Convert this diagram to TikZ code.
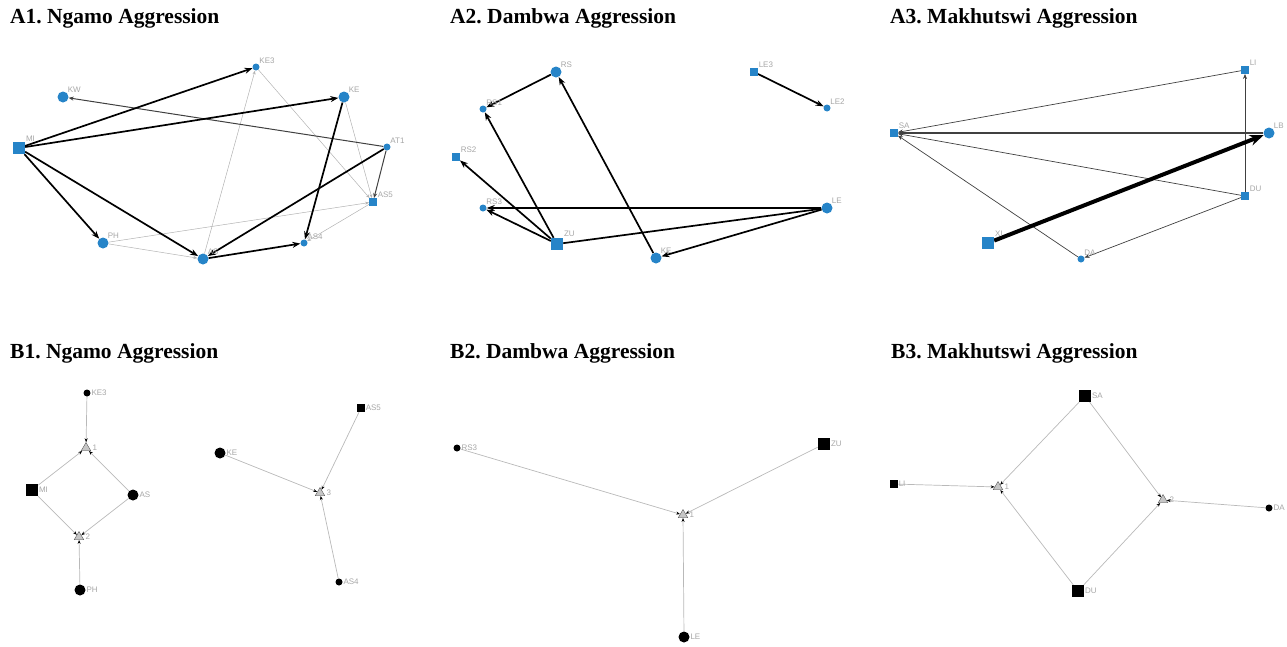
\documentclass[tikz,border=0pt]{standalone}
\usepackage{fontspec}
\setmainfont{Liberation Serif}
\newfontfamily\lblfont{Liberation Sans}
\usetikzlibrary{arrows.meta,shapes.geometric,backgrounds}
\definecolor{netblue}{RGB}{38,132,200}
\frenchspacing

\begin{document}
\begin{tikzpicture}[x=1pt,y=-1pt,
    title/.style={anchor=base west,inner sep=0pt,font=\fontsize{21.5}{23}\selectfont\bfseries},
    lbl/.style={font=\lblfont\fontsize{8}{9}\selectfont,text=gray!70,inner sep=0.6pt},
    alab/.style={label={[lbl,anchor=south west]north east:#1}},
    blab/.style={label={[lbl,anchor=west]east:#1}},
    tlab/.style={label={[lbl,anchor=west,xshift=2.5pt]east:#1}},
    bigdot/.style={circle,fill=#1,inner sep=0pt,minimum size=11pt},
    smalldot/.style={circle,fill=#1,inner sep=0pt,minimum size=7pt},
    bigbox/.style={rectangle,fill=#1,inner sep=0pt,minimum size=12pt},
    smallbox/.style={rectangle,fill=#1,inner sep=0pt,minimum size=7.5pt},
    tri/.style={regular polygon,regular polygon sides=3,draw=gray!70!black,fill=gray!45,
        inner sep=0pt,minimum size=11pt,line width=0.4pt},
    heavy/.style={line width=1.7pt,-{Stealth[length=8pt,width=6pt]}},
    mid/.style={line width=1pt,black!75,-{Stealth[length=5pt,width=4pt]}},
    faint/.style={line width=0.5pt,gray!60,-{Stealth[length=4pt,width=3pt]}},
    hub/.style={line width=0.7pt,gray!55,-{Stealth[length=4pt,width=3pt,color=black]}}]

    \useasboundingbox (0,0) rectangle (1287,646);

    % Titles
    \node[title] (tA1) at (10,23) {A1. Ngamo Aggression};
    \node[title] (tA2) at (450,23) {A2. Dambwa Aggression};
    \node[title] (tA3) at (890,23) {A3. Makhutswi Aggression};
    \node[title] (tB1) at (10,358) {B1. Ngamo Aggression};
    \node[title] (tB2) at (450,358) {B2. Dambwa Aggression};
    \node[title] (tB3) at (891,358) {B3. Makhutswi Aggression};

    % A1 Ngamo
    \begin{scope}
        \node[smalldot=netblue,alab=KE3] (KE3) at (256,67) {};
        \node[bigdot=netblue,alab=KW] (KW) at (63,97) {};
        \node[bigdot=netblue,alab=KE] (KE) at (344,97) {};
        \node[bigbox=netblue,alab=MI] (MI) at (19,148) {};
        \node[smalldot=netblue,alab=AT1] (AT1) at (387,147) {};
        \node[smallbox=netblue,alab=AS5] (AS5) at (373,202) {};
        \node[bigdot=netblue,alab=PH] (PH) at (103,243) {};
        \node[bigdot=netblue,alab=AS] (AS) at (203,259) {};
        \node[smalldot=netblue,alab=AS4] (AS4) at (304,243) {};

        % thin ties first, heavy ones on top
        \begin{pgfonlayer}{background}
        \foreach \s/\t in {KE/AS5,KE3/AS5,AS/KE3,PH/AS5,PH/AS,AS5/AS4}
            \draw[faint] (\s) -- (\t);
        \draw[mid] (AT1) -- (KW);
        \draw[mid] (AT1) -- (AS5);
        \foreach \s/\t in {MI/KE3,MI/KE,MI/PH,MI/AS,AT1/AS,KE/AS4,AS/AS4}
            \draw[heavy] (\s) -- (\t);
        \end{pgfonlayer}
    \end{scope}

    % A2 Dambwa
    \begin{scope}
        \node[bigdot=netblue,alab=RS] (RS) at (556,72) {};
        \node[smallbox=netblue,alab=LE3] (LE3) at (754,72) {};
        \node[smalldot=netblue,alab=LE2] (LE2) at (827,108) {};
        \node[smalldot=netblue,alab=RS1] (RS1) at (483,109) {};
        \node[smallbox=netblue,alab=RS2] (RS2) at (456,157) {};
        \node[smalldot=netblue,alab=RS3] (RS3) at (483,208) {};
        \node[bigdot=netblue,alab=LE] (LE) at (827,208) {};
        \node[bigbox=netblue,alab=ZU] (ZU) at (557,244) {};
        \node[bigdot=netblue,alab=KE] (KE) at (656,258) {};

        \begin{pgfonlayer}{background}
        \foreach \s/\t in {RS/RS1,ZU/RS1,ZU/RS2,ZU/RS3,LE/RS3,LE/KE,KE/RS,LE3/LE2}
            \draw[heavy] (\s) -- (\t);
        \draw[heavy,-] (LE) -- (ZU);
        \end{pgfonlayer}
    \end{scope}

    % A3 Makhutswi
    \begin{scope}
        \node[smallbox=netblue,alab=LI] (LI) at (1245,70) {};
        \node[smallbox=netblue,alab=SA] (SA) at (894,133) {};
        \node[bigdot=netblue,alab=LB] (LB) at (1269,133) {};
        \node[smallbox=netblue,alab=DU] (DU) at (1245,196) {};
        \node[bigbox=netblue,alab=XI] (XI) at (988,243) {};
        \node[smalldot=netblue,alab=DA] (DA) at (1081,259) {};

        \begin{pgfonlayer}{background}
        \foreach \s/\t in {LI/SA,DU/SA,DA/SA,DU/LI,DU/DA}
            \draw[mid,line width=0.7pt] (\s) -- (\t);
        \draw[mid,line width=1.3pt] (LB) -- (SA);
        \draw[line width=4pt,-{Stealth[length=14pt,width=11pt]}] (XI) -- (LB);
        \end{pgfonlayer}
    \end{scope}

    % B1 Ngamo
    \begin{scope}
        \node[smalldot=black,blab=KE3] (KE3) at (87,393) {};
        \node[tri,tlab=1] (g1) at (86,448) {};
        \node[bigbox=black,blab=MI] (MI) at (32,490) {};
        \node[bigdot=black,blab=AS] (AS) at (133,495) {};
        \node[tri,tlab=2] (g2) at (79,537) {};
        \node[bigdot=black,blab=PH] (PH) at (80,590) {};
        \node[bigdot=black,blab=KE] (KE) at (220,453) {};
        \node[smallbox=black,blab=AS5] (AS5) at (361,408) {};
        \node[tri,tlab=3] (g3) at (320,493) {};
        \node[smalldot=black,blab=AS4] (AS4) at (339,582) {};

        \begin{pgfonlayer}{background}
        \foreach \s/\t in {KE3/g1,MI/g1,AS/g1,MI/g2,AS/g2,PH/g2,KE/g3,AS5/g3,AS4/g3}
            \draw[hub] (\s) -- (\t);
        \end{pgfonlayer}
    \end{scope}

    % B2 Dambwa
    \begin{scope}
        \node[smalldot=black,blab=RS3] (RS3) at (457,448) {};
        \node[bigbox=black,blab=ZU] (ZU) at (824,444) {};
        \node[tri,tlab=1] (g1) at (683,515) {};
        \node[bigdot=black,blab=LE] (LE) at (684,637) {};

        \begin{pgfonlayer}{background}
        \foreach \s in {RS3,ZU,LE}
            \draw[hub] (\s) -- (g1);
        \end{pgfonlayer}
    \end{scope}

    % B3 Makhutswi
    \begin{scope}
        \node[bigbox=black,blab=SA] (SA) at (1085,396) {};
        \node[smallbox=black,blab=LI] (LI) at (894,484) {};
        \node[tri,tlab=1] (g1) at (998,487) {};
        \node[tri,tlab=2] (g2) at (1163,500) {};
        \node[smalldot=black,blab=DA] (DA) at (1269,508) {};
        \node[bigbox=black,blab=DU] (DU) at (1078,591) {};

        \begin{pgfonlayer}{background}
        \foreach \s/\t in {LI/g1,SA/g1,DU/g1,SA/g2,DU/g2,DA/g2}
            \draw[hub] (\s) -- (\t);
        \end{pgfonlayer}
    \end{scope}
\end{tikzpicture}
\end{document}
